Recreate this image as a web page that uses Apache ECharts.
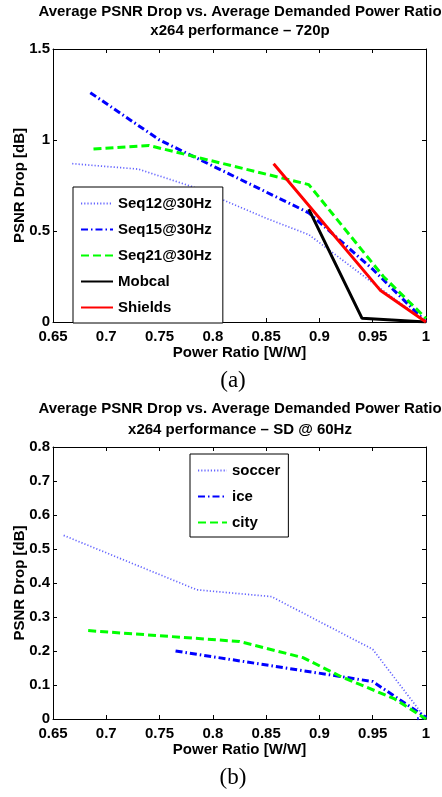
<!DOCTYPE html>
<html>
<head>
<meta charset="utf-8">
<script src="https://cdn.jsdelivr.net/npm/echarts@6/dist/echarts.min.js"></script>
<style>html,body{margin:0;padding:0;background:#fff;}#c{width:442px;height:797px;}</style>
</head>
<body>
<div id="c"></div>
<script>
// ---- data (a) 720p ----
const xTicksA = [0.65, 0.7, 0.75, 0.8, 0.85, 0.9, 0.95, 1];
const seq12X = [0.668, 0.73, 0.78, 0.85, 0.89, 0.95, 1.0];
const seq12Y = [0.87, 0.84, 0.745, 0.57, 0.48, 0.215, 0.0];
const seq15X = [0.685, 0.75, 0.89, 0.95, 1.0];
const seq15Y = [1.26, 1.0, 0.6, 0.29, 0.0];
const seq21X = [0.688, 0.74, 0.89, 0.96, 1.0];
const seq21Y = [0.95, 0.97, 0.755, 0.25, 0.02];
const mobcalX = [0.89, 0.94, 1.0];
const mobcalY = [0.62, 0.02, 0.0];
const shieldsX = [0.857, 0.957, 1.0];
const shieldsY = [0.87, 0.175, 0.0];
// ---- data (b) SD @ 60Hz ----
const soccerX = [0.66, 0.785, 0.855, 0.95, 1.0];
const soccerY = [0.54, 0.38, 0.36, 0.205, 0.0];
const iceX = [0.765, 0.92, 0.95, 1.0, 0.99];
const iceY = [0.2, 0.125, 0.11, 0.005, 0.0];
const cityX = [0.683, 0.825, 0.885, 0.92, 0.97, 1.0];
const cityY = [0.26, 0.228, 0.18, 0.125, 0.06, 0.0];

const titleA1 = 'Average PSNR Drop vs. Average Demanded Power Ratio';
const titleA2 = 'x264 performance \u2013 720p';
const titleB1 = 'Average PSNR Drop vs. Average Demanded Power Ratio';
const titleB2 = 'x264 performance \u2013 SD @ 60Hz';
const xName = 'Power Ratio [W/W]';
const yName = 'PSNR Drop [dB]';

const FONT = 'Liberation Sans, Arial, sans-serif';
const pair = (xs, ys) => xs.map((x, i) => [x, ys[i]]);

function xAxes(gi) {
  const common = {
    type: 'value', gridIndex: gi, min: 0.65, max: 1, interval: 0.05,
    axisLine: {show: true, onZero: false, lineStyle: {color: '#000', width: 1}},
    axisTick: {show: true, inside: true, length: 4, lineStyle: {color: '#000'}},
    splitLine: {show: false}
  };
  return [
    Object.assign({}, common, {
      position: 'bottom', name: xName, nameLocation: 'middle', nameGap: 23,
      nameMoveOverlap: false,
      nameTextStyle: {fontFamily: FONT, fontWeight: 'bold', fontSize: 15, color: '#000'},
      axisLabel: {fontFamily: FONT, fontWeight: 'bold', fontSize: 15, color: '#000', margin: 7}
    }),
    Object.assign({}, common, {position: 'top', axisLabel: {show: false}})
  ];
}
function yAxes(gi, max, interval) {
  const common = {
    type: 'value', gridIndex: gi, min: 0, max: max, interval: interval,
    axisLine: {show: true, onZero: false, lineStyle: {color: '#000', width: 1}},
    axisTick: {show: true, inside: true, length: 4, lineStyle: {color: '#000'}},
    splitLine: {show: false}
  };
  return [
    Object.assign({}, common, {
      position: 'left', name: yName, nameLocation: 'middle', nameGap: 26,
      nameMoveOverlap: false,
      nameTextStyle: {fontFamily: FONT, fontWeight: 'bold', fontSize: 15, color: '#000'},
      axisLabel: {fontFamily: FONT, fontWeight: 'bold', fontSize: 15, color: '#000', margin: 3}
    }),
    Object.assign({}, common, {position: 'right', axisLabel: {show: false}})
  ];
}

function line(name, xs, ys, xi, yi, color, width, type) {
  return {
    name: name, type: 'line', xAxisIndex: xi, yAxisIndex: yi,
    data: pair(xs, ys), symbol: 'none', silent: true, animation: false,
    lineStyle: {color: color, width: width, type: type, cap: 'butt'},
    itemStyle: {color: color}
  };
}

const DOT = [1.2, 2];
const DASHDOT = [7, 3, 1.5, 3];
const DASH = [8, 4];
const cDot = '#6464ff';

const legendText = {fontFamily: FONT, fontWeight: 'bold', fontSize: 15, color: '#000'};

const option = {
  animation: false,
  backgroundColor: '#fff',
  grid: [
    {left: 53, top: 49, width: 373, height: 273, show: false},
    {left: 53, top: 447, width: 373, height: 272, show: false}
  ],
  xAxis: xAxes(0).concat(xAxes(1)),
  yAxis: yAxes(0, 1.5, 0.5).concat(yAxes(1, 0.8, 0.1)),
  legend: [
    {
      data: ['Seq12@30Hz', 'Seq15@30Hz', 'Seq21@30Hz', 'Mobcal', 'Shields'],
      orient: 'vertical', left: 73, top: 187, selectedMode: false,
      backgroundColor: '#fff', borderColor: '#000', borderWidth: 1, borderRadius: 0,
      padding: [9, 11, 8, 7], itemGap: 11, itemWidth: 32, itemHeight: 14,
      itemStyle: {opacity: 0},
      textStyle: legendText
    },
    {
      data: ['soccer', 'ice', 'city'],
      orient: 'vertical', left: 190, top: 454, selectedMode: false,
      backgroundColor: '#fff', borderColor: '#000', borderWidth: 1, borderRadius: 0,
      padding: [9, 8, 7, 7], itemGap: 11, itemWidth: 29, itemHeight: 14,
      itemStyle: {opacity: 0},
      textStyle: legendText
    }
  ],
  series: [
    line('Seq12@30Hz', seq12X, seq12Y, 0, 0, cDot, 1.7, DOT),
    line('Seq15@30Hz', seq15X, seq15Y, 0, 0, '#0000ff', 3, DASHDOT),
    line('Seq21@30Hz', seq21X, seq21Y, 0, 0, '#00ff00', 3, DASH),
    line('Mobcal', mobcalX, mobcalY, 0, 0, '#000000', 3, 'solid'),
    line('Shields', shieldsX, shieldsY, 0, 0, '#ff0000', 3, 'solid'),
    line('soccer', soccerX, soccerY, 2, 2, cDot, 1.7, DOT),
    line('ice', iceX, iceY, 2, 2, '#0000ff', 3, DASHDOT),
    line('city', cityX, cityY, 2, 2, '#00ff00', 3, DASH)
  ],
  graphic: [
    {type: 'text', x: 240, y: 12, style: {text: titleA1, textAlign: 'center', textVerticalAlign: 'middle', font: 'bold 15px ' + FONT, fill: '#000'}},
    {type: 'text', x: 240, y: 31, style: {text: titleA2, textAlign: 'center', textVerticalAlign: 'middle', font: 'bold 15px ' + FONT, fill: '#000'}},
    {type: 'text', x: 233, y: 381, style: {text: '(a)', textAlign: 'center', textVerticalAlign: 'middle', font: '23px Liberation Serif, Times New Roman, serif', fill: '#000'}},
    {type: 'text', x: 240, y: 409, style: {text: titleB1, textAlign: 'center', textVerticalAlign: 'middle', font: 'bold 15px ' + FONT, fill: '#000'}},
    {type: 'text', x: 240, y: 430, style: {text: titleB2, textAlign: 'center', textVerticalAlign: 'middle', font: 'bold 15px ' + FONT, fill: '#000'}},
    {type: 'text', x: 233, y: 778, style: {text: '(b)', textAlign: 'center', textVerticalAlign: 'middle', font: '23px Liberation Serif, Times New Roman, serif', fill: '#000'}}
  ]
};

const chart = echarts.init(document.getElementById('c'), null, {renderer: 'canvas'});
chart.setOption(option);
</script>
</body>
</html>
